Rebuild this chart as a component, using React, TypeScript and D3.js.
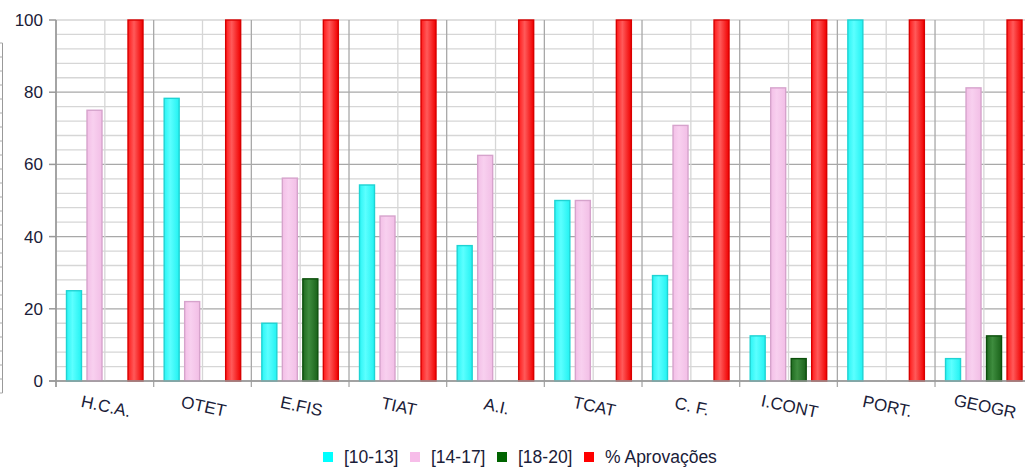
import React from 'react';
import * as d3 from 'd3';

// disciplinas
const categories = ['H.C.A.', 'OTET', 'E.FIS', 'TIAT', 'A.I.', 'TCAT', 'C. F.', 'I.CONT', 'PORT.', 'GEOGR'];

// valores por escalão de nota (%)
const nota10a13 = [25, 78.3, 16, 54.3, 37.5, 50, 29.2, 12.5, 100, 6.2];
const nota14a17 = [75, 22, 56.2, 45.7, 62.5, 50, 70.8, 81.2, 0, 81.2];
const nota18a20 = [0, 0, 28.3, 0, 0, 0, 0, 6.2, 0, 12.5];
const aprovacoes = [100, 100, 100, 100, 100, 100, 100, 100, 100, 100];

const seriesNames = ['[10-13]', '[14-17]', '[18-20]', '% Aprovações'];
const yTicks = [0, 20, 40, 60, 80, 100];

const series = [
  { name: seriesNames[0], values: nota10a13, grad: 'gCyan', stroke: '#1fd3d3', legend: '#00ffff' },
  { name: seriesNames[1], values: nota14a17, grad: 'gPink', stroke: '#d6a3cc', legend: '#f7bde9' },
  { name: seriesNames[2], values: nota18a20, grad: 'gGreen', stroke: '#0b4f0b', legend: '#006400' },
  { name: seriesNames[3], values: aprovacoes, grad: 'gRed', stroke: '#d80000', legend: '#ff0000' },
];

const W = 1025;
const H = 467;
const left = 56;
const groupW = 97.67;
const font = 'Arial, "Liberation Sans", sans-serif';
const txt = '#1a2038';

export default function App() {
  const x = d3.scaleBand<string>()
    .domain(categories)
    .range([left, left + groupW * categories.length])
    .padding(0);

  const xInner = d3.scaleBand<string>()
    .domain(seriesNames)
    .range([10, 87.5])
    .paddingInner(0.22)
    .paddingOuter(0);

  const y = d3.scaleLinear().domain([0, 100]).range([381, 20]);
  const minor = d3.range(0, 101, 4);
  const right = left + groupW * categories.length;

  // eixo cortado na margem esquerda
  const edge = d3.scaleLinear().domain([0, 25]).range([393, 43]);

  return (
    <svg width={W} height={H} style={{ position: 'absolute', left: 0, top: 0, background: '#fff' }}>
      <defs>
        <linearGradient id="gRed" x1="0" x2="1" y1="0" y2="0">
          <stop offset="0" stopColor="#ff1a1a" />
          <stop offset="0.4" stopColor="#ff5a5a" />
          <stop offset="1" stopColor="#f00000" />
        </linearGradient>
        <linearGradient id="gCyan" x1="0" x2="1" y1="0" y2="0">
          <stop offset="0" stopColor="#2af5f5" />
          <stop offset="0.4" stopColor="#5cffff" />
          <stop offset="1" stopColor="#22f2f2" />
        </linearGradient>
        <linearGradient id="gPink" x1="0" x2="1" y1="0" y2="0">
          <stop offset="0" stopColor="#f3bfe7" />
          <stop offset="0.4" stopColor="#f8d0ef" />
          <stop offset="1" stopColor="#f2bee6" />
        </linearGradient>
        <linearGradient id="gGreen" x1="0" x2="1" y1="0" y2="0">
          <stop offset="0" stopColor="#1f6a1f" />
          <stop offset="0.4" stopColor="#3e8c3e" />
          <stop offset="1" stopColor="#1a621a" />
        </linearGradient>
      </defs>

      {/* fragmento do gráfico anterior */}
      <line x1={2.5} x2={2.5} y1={edge(25)} y2={edge(0)} stroke="#999" />
      {edge.ticks(25).map(t => (
        <line key={'e' + t} x1={0} x2={2.5} y1={edge(t)} y2={edge(t)} stroke="#aaa" />
      ))}

      {/* grelha horizontal */}
      {minor.map(v => (
        <line key={'h' + v} x1={left} x2={right} y1={y(v)} y2={y(v)}
          stroke={v % 20 === 0 && v !== 100 ? '#a8a8a8' : '#d6d6d6'} strokeWidth={1.3} />
      ))}

      {/* grelha vertical */}
      {categories.map(c => (
        <g key={'v' + c}>
          <line x1={x(c)!} x2={x(c)!} y1={y(100)} y2={y(0) + 6} stroke="#a8a8a8" strokeWidth={1.3} />
          <line x1={x(c)! + groupW / 2} x2={x(c)! + groupW / 2} y1={y(100)} y2={y(0)} stroke="#d6d6d6" strokeWidth={1.3} />
        </g>
      ))}

      {/* barras */}
      {categories.map((c, i) => (
        <g key={'b' + c}>
          {series.map(s => s.values[i] > 0 && (
            <rect key={s.name}
              x={x(c)! + xInner(s.name)! + 0.5}
              y={y(s.values[i])}
              width={xInner.bandwidth() - 1}
              height={y(0) - y(s.values[i])}
              fill={`url(#${s.grad})`}
              stroke={s.stroke}
              strokeWidth={1.4} />
          ))}
        </g>
      ))}

      {/* eixos */}
      <line x1={left} x2={left} y1={y(100)} y2={y(0) + 6} stroke="#999" strokeWidth={1.5} />
      <line x1={left - 7} x2={right} y1={y(0)} y2={y(0)} stroke="#999" strokeWidth={1.5} />
      {yTicks.map(t => (
        <g key={'y' + t}>
          <line x1={left - 7} x2={left} y1={y(t)} y2={y(t)} stroke="#999" strokeWidth={1.5} />
          <text x={43} y={y(t) + 6} textAnchor="end" fontFamily={font} fontSize={17} fill={txt}>{t}</text>
        </g>
      ))}

      {/* rótulos das disciplinas */}
      {categories.map(c => {
        const cx = x(c)! + groupW / 2;
        return (
          <text key={'l' + c} transform={`translate(${cx},${412}) rotate(12)`}
            textAnchor="middle" fontFamily={font} fontSize={17} fill={txt}>{c}</text>
        );
      })}

      {/* legenda */}
      {(() => {
        const pos = [323, 410, 497, 584];
        return series.map((s, i) => (
          <g key={'lg' + s.name}>
            <rect x={pos[i]} y={452} width={10} height={10} fill={s.legend} />
            <text x={pos[i] + 21} y={463} fontFamily={font} fontSize={17.5} fill={txt}>{s.name}</text>
          </g>
        ));
      })()}
    </svg>
  );
}
